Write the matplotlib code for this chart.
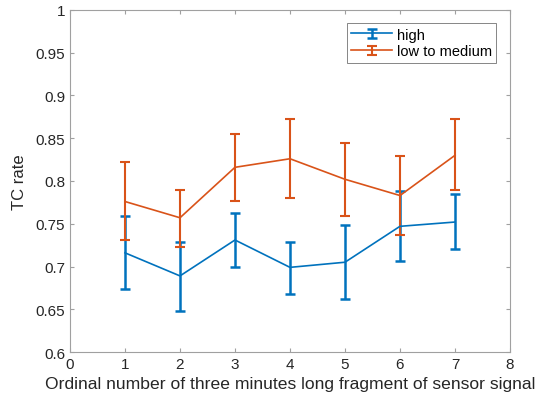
import numpy as np
import matplotlib.pyplot as plt
from matplotlib.legend_handler import HandlerErrorbar
from matplotlib.container import ErrorbarContainer

plt.rcParams['font.family'] = ['Liberation Sans', 'DejaVu Sans']

# fragment index
fragment = [1, 2, 3, 4, 5, 6, 7]

# TC rate, high group (mean, lower end, upper end of error bar)
high_mean = [0.716, 0.689, 0.731, 0.699, 0.705, 0.747, 0.752]
high_low = [0.674, 0.648, 0.700, 0.668, 0.662, 0.707, 0.720]
high_up = [0.759, 0.729, 0.762, 0.729, 0.748, 0.788, 0.785]

# TC rate, low to medium group
lm_mean = [0.776, 0.757, 0.816, 0.826, 0.802, 0.783, 0.830]
lm_low = [0.731, 0.723, 0.777, 0.780, 0.759, 0.737, 0.789]
lm_up = [0.822, 0.790, 0.855, 0.873, 0.845, 0.829, 0.873]

blue = '#0072BD'
orange = '#D95319'
gray = '#a0a0a0'

fig = plt.figure(figsize=(5.4, 4.06), dpi=100)
ax = fig.add_axes([0.1296, 0.1305, 0.8148, 0.8425])

h_err = [np.array(high_mean) - np.array(high_low), np.array(high_up) - np.array(high_mean)]
l_err = [np.array(lm_mean) - np.array(lm_low), np.array(lm_up) - np.array(lm_mean)]

ax.errorbar(fragment, high_mean, yerr=h_err, color=blue, lw=1.2, elinewidth=1.8,
            capsize=3.5, capthick=1.8, label='high')
ax.errorbar(fragment, lm_mean, yerr=l_err, color=orange, lw=1.2, elinewidth=1.5,
            capsize=3.5, capthick=1.5, label='low to medium')

ax.set_xlim(0, 8)
ax.set_ylim(0.6, 1.0)
ax.set_xticks(range(0, 9))
ax.set_yticks(np.arange(0.6, 1.001, 0.05))
ax.set_yticklabels(['0.6', '0.65', '0.7', '0.75', '0.8', '0.85', '0.9', '0.95', '1'])

for s in ax.spines.values():
    s.set_color(gray)
    s.set_linewidth(0.8)
ax.tick_params(direction='in', length=3, color=gray, labelcolor='#262626',
               labelsize=11, top=True, right=True, width=0.8)

ax.set_xlabel('Ordinal number of three minutes long fragment of sensor signal',
              fontsize=12.6, color='#262626', labelpad=4)
ax.set_ylabel('TC rate', fontsize=12, color='#262626', labelpad=6)

leg = ax.legend(loc='upper right', bbox_to_anchor=(0.975, 0.97), fontsize=10.5,
                frameon=True, fancybox=False, borderpad=0.3, labelspacing=0.2,
                handlelength=2.8, handletextpad=0.3, borderaxespad=0.2,
                handler_map={ErrorbarContainer: HandlerErrorbar(yerr_size=0.3)})
leg.get_frame().set_edgecolor('#505050')
leg.get_frame().set_linewidth(0.6)

fig.savefig('out.png', dpi=100)
